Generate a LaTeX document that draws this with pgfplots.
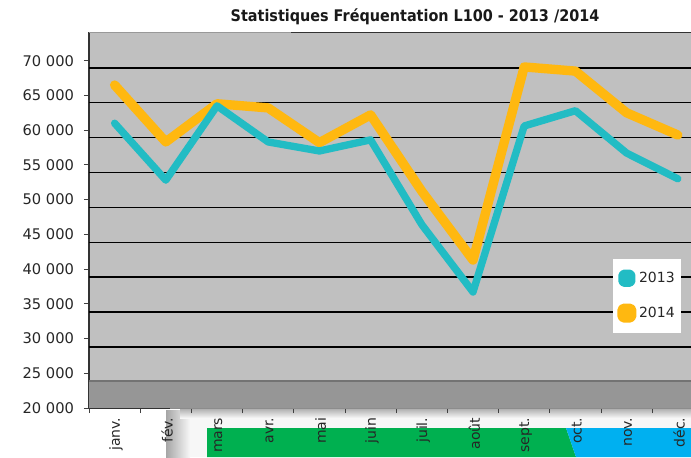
\documentclass[border=0pt]{standalone}
\usepackage{fontspec}
\setmainfont{DejaVu Sans}
\usepackage{graphicx}
\usepackage{pgfplots}
\usepackage{pgfplotstable}
\pgfplotsset{compat=1.18}

\definecolor{plotbg}{RGB}{192,192,192}
\definecolor{floorgray}{RGB}{150,150,150}
\definecolor{teal13}{RGB}{34,188,196}
\definecolor{amber14}{RGB}{255,184,16}
\definecolor{xlgreen}{RGB}{0,176,80}
\definecolor{xlblue}{RGB}{0,176,240}

% month index, 2013, 2014
\pgfplotstableread{
m  y2013  y2014
1  61000  66500
2  52800  58300
3  63500  63800
4  58300  63200
5  57000  58200
6  58600  62200
7  46400  51200
8  36700  41300
9  60600  69100
10 62800  68500
11 56700  62500
12 53000  59300
}\freq

\begin{document}
\begin{tikzpicture}
% background pieces, in pixels of the reference (origin = axis corner at 89,408)
\begin{scope}[x=0.75pt,y=-0.75pt,xshift=-66.75pt,yshift=306pt]
  \fill[black!3] (170,410) rectangle (700,457);
  \shade[left color=black!35, right color=black!3] (166,410) rectangle (190,457);
  \shade[top color=black!30, bottom color=black!3] (180,409) rectangle (700,418);
  \fill[xlgreen] (207,428) -- (566,428) -- (576,457) -- (207,457) -- cycle;
  \fill[xlblue] (566,428) -- (700,428) -- (700,457) -- (576,457) -- cycle;
\end{scope}

\begin{axis}[
  at={(0,0)}, anchor=south west,
  scale only axis, width=460.8pt, height=282pt,
  xmin=0.5, xmax=12.5, ymin=20000, ymax=74130,
  scaled y ticks=false,
  axis background/.style={fill=plotbg},
  axis lines*=left,
  axis line style={black!80, line width=1pt},
  tick align=outside, major tick length=3.75pt,
  tick style={black!75, line width=0.6pt},
  xtick={0.5,1.5,...,12.5}, x tick label as interval,
  xticklabels={janv.,fév.,mars,avr.,mai,juin,juil.,août,sept.,oct.,nov.,déc.},
  xticklabel style={rotate=90, anchor=east, yshift=-1pt,
    font=\fontsize{10.5}{12}\selectfont, text=black!85},
  ytick={20000,25000,...,70000},
  yticklabels={20 000,25 000,30 000,35 000,40 000,45 000,50 000,55 000,60 000,65 000,70 000},
  yticklabel style={font=\fontsize{11}{13}\selectfont, text=black!85, xshift=-4pt},
  extra y ticks={28800,33800,38850,43850,48900,53900,58950,63950,68950},
  extra y tick labels={},
  extra y tick style={grid=major, major tick length=0pt},
  grid style={black, line width=1.1pt},
  legend style={at={(0.853,0.198)}, anchor=south west, draw=none, fill=white,
    font=\fontsize{10.5}{12}\selectfont, text=black!85,
    inner xsep=3pt, inner ysep=8pt, row sep=12pt},
  legend cell align=left,
  reverse legend,
  legend image code/.code={\fill[#1, rounded corners=1.2pt] (0pt,-3.3pt) rectangle (7.3pt,4pt);},
]
\fill[floorgray] (axis cs:0.5,20000) rectangle (axis cs:12.5,23900);
\draw[black!55, line width=1pt] (axis cs:0.5,23900) -- (axis cs:12.5,23900);

\addplot[amber14, line width=7pt, line join=round, line cap=round] table[x=m, y=y2014] {\freq};
\addlegendentry{2014}
\addplot[teal13, line width=5.5pt, line join=round, line cap=round] table[x=m, y=y2013] {\freq};
\addlegendentry{2013}
\end{axis}

\begin{scope}[x=0.75pt,y=-0.75pt,xshift=-66.75pt,yshift=306pt]
  \draw[black!40, line width=0.8pt] (89,32.5) -- (291,32.5);
  \draw[black!80, line width=0.8pt] (291,32.5) -- (700,32.5);
  \draw[black!45, line width=1pt] (170,408.5) -- (700,408.5);
  \node[font=\bfseries\fontsize{12}{14}\selectfont, text=black!90] at (415,17)
    {\scalebox{0.9}[1]{Statistiques Fréquentation L100 - 2013 /2014}};
  \pgfresetboundingbox
  \path[use as bounding box] (0,0) rectangle (691,457);
\end{scope}
\end{tikzpicture}
\end{document}
